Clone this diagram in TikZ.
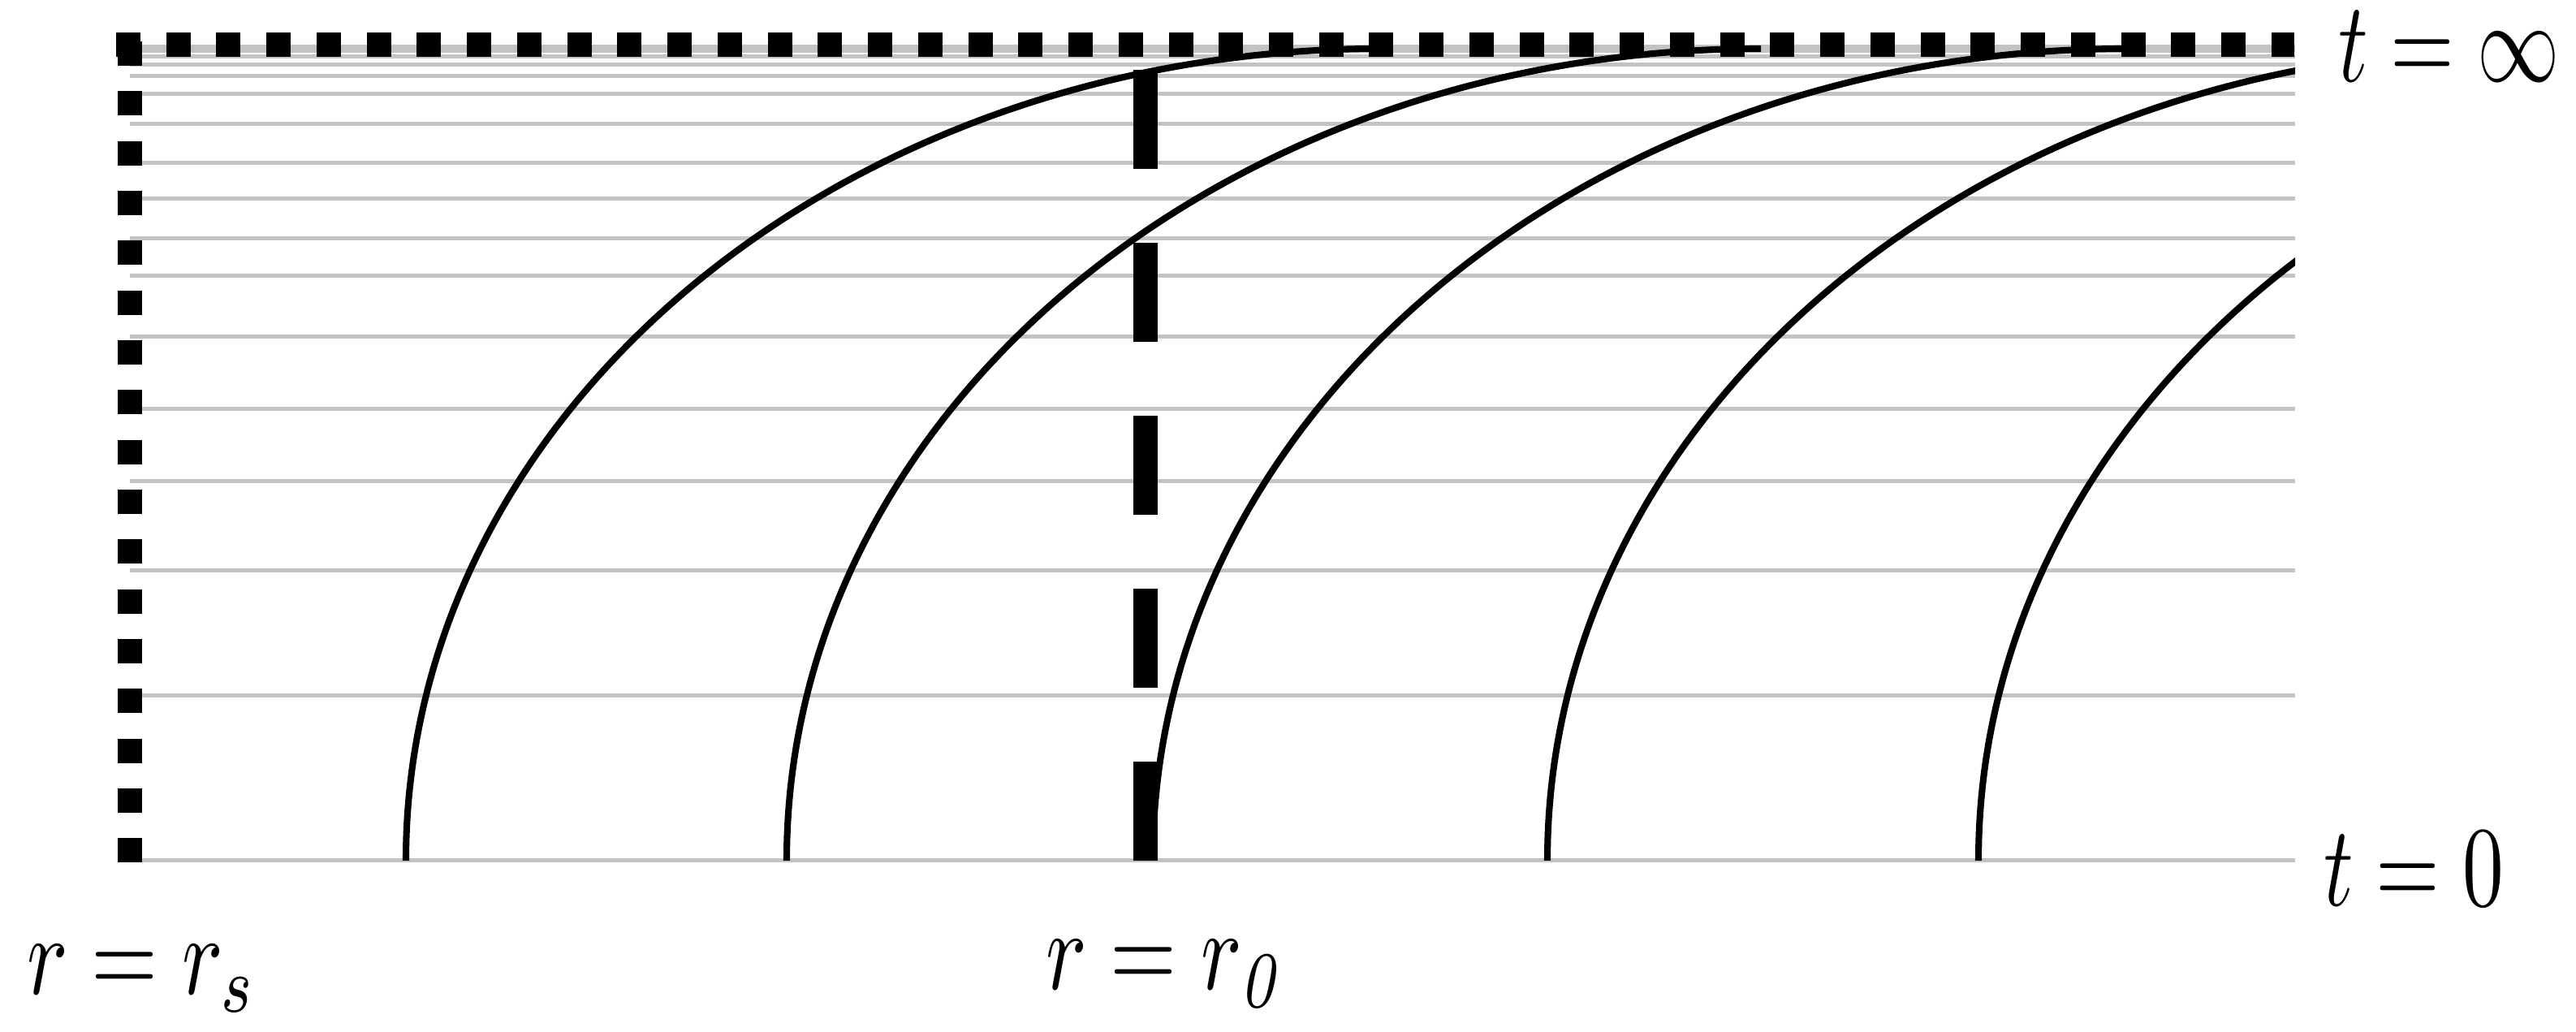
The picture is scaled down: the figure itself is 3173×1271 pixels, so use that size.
\documentclass[tikz,border=0pt]{standalone}
\usepackage{graphicx}
\definecolor{gridgray}{RGB}{195,195,195}
\tikzset{
  gridline/.style={draw=gridgray, line width=1.42pt},
  geodesic/.style={draw=black, line width=2.3pt},
  horizonrow/.style={draw=black, line width=8.536pt, dash pattern=on 8.536pt off 9.02pt},
  horizoncol/.style={draw=black, line width=8.536pt, dash pattern=on 8.536pt off 8.906pt},
  observer/.style={draw=black, line width=8.536pt, dash pattern=on 34.71pt off 25.89pt},
  lbl/.style={inner sep=0pt, outer sep=0pt}
}
\begin{document}
\begin{tikzpicture}[x=0.01cm,y=0.01cm]
\useasboundingbox (0,0) rectangle (3173,1271);
% constant-t lines
\foreach \yy in {1060,857,703,593,504,415,340,294,245,201,153,116,94,80,70,63,58}
  \draw[gridline] (160,{1271-\yy}) -- (2827,{1271-\yy});
% light rays
\begin{scope}
  \clip (0,0) rectangle (2827,1271);
  \foreach \xx in {500,969,1420,1906,2437}
    \draw[geodesic] (\xx,211) arc[start angle=180,end angle=90,x radius=1200,y radius=1000];
\end{scope}
% observer at r0
\coordinate (obsbot) at (1411,211);
\coordinate (obstop) at (1411,1185);
\draw[observer] (obsbot) -- (obstop);
% horizon and t = infinity
\coordinate (rowL) at (143,1216);
\coordinate (rowR) at (2826,1216);
\coordinate (colT) at (160,1220);
\coordinate (colB) at (160,209);
\draw[horizonrow] (rowL) -- (rowR);
\draw[horizoncol] (colT) -- (colB);
% labels
\node[lbl, anchor=west] (tinf) at (2880,1214) {\scalebox{2.88}[4.0]{$t=\infty$}};
\node[lbl, anchor=west] (tzero) at (2862,201) {\scalebox{2.88}[4.0]{$t=0$}};
\node[lbl, anchor=base west] (rs) at (33,46) {\scalebox{3.0}[4.0]{$r=r_s$}};
\node[lbl, anchor=base west] (rzero) at (1288,52) {\scalebox{3.0}[4.0]{$r=r_{\mathit{0}}$}};
\end{tikzpicture}
\end{document}
